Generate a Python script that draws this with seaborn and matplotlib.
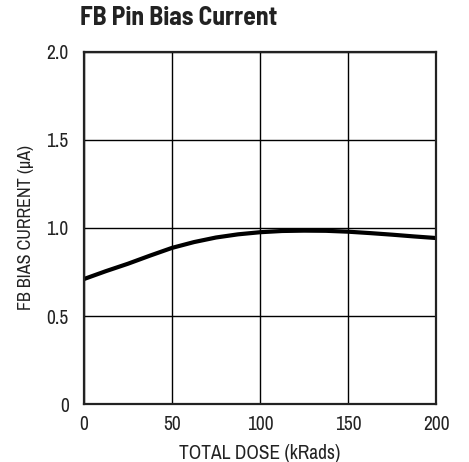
import pandas as pd
import seaborn as sns
import matplotlib.pyplot as plt

# values
dose = [0, 12.5, 25, 37.5, 50, 62.5, 75, 87.5, 100, 112.5, 125, 137.5, 150, 162.5, 175, 187.5, 200]
bias = [0.71, 0.755, 0.797, 0.843, 0.887, 0.92, 0.946, 0.964, 0.976, 0.983, 0.985, 0.984, 0.979, 0.971, 0.962, 0.952, 0.943]

xticks = [0, 50, 100, 150, 200]
yticks = [0, 0.5, 1.0, 1.5, 2.0]
ytick_labels = ["0", "0.5", "1.0", "1.5", "2.0"]

sns.set_style("white")
plt.rcParams["font.family"] = ["Archivo Narrow", "Liberation Sans", "DejaVu Sans"]

df = pd.DataFrame({"dose": dose, "bias": bias})

fig = plt.figure(figsize=(4.69, 4.62), dpi=100)
ax = fig.add_axes([0.179, 0.1255, 0.751, 0.762])

sns.lineplot(data=df, x="dose", y="bias", color="black", linewidth=3, ax=ax)

ax.set_xlim(0, 200)
ax.set_ylim(0, 2.0)
ax.set_xticks(xticks)
ax.set_xticklabels([str(v) for v in xticks])
ax.set_yticks(yticks)
ax.set_yticklabels(ytick_labels)
ax.grid(True, color="black", linewidth=1)
ax.tick_params(axis="both", length=0, labelsize=14, colors="#222222")
ax.tick_params(axis="x", pad=8)
ax.tick_params(axis="y", pad=11)
for s in ax.spines.values():
    s.set_color("#222222")
    s.set_linewidth(1.6)

ax.set_xlabel("TOTAL DOSE (kRads)", fontsize=14, color="#222222", labelpad=7)
ax.set_ylabel("FB BIAS CURRENT (µA)", fontsize=13, color="#222222", labelpad=9)

fig.text(0.171, 0.962, "FB Pin Bias Current", fontsize=18.5, fontweight="bold",
         family=["Barlow Semi Condensed", "Liberation Sans"],
         color="#222222", ha="left", va="center")

fig.savefig("out.png", dpi=100)
